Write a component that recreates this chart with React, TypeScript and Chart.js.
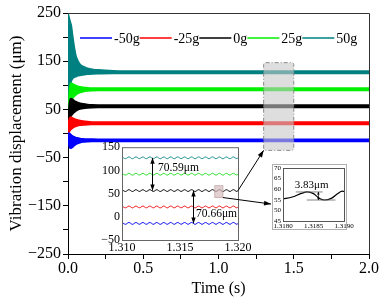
import { useEffect, useRef } from 'react';
import { Chart, registerables } from 'chart.js';
Chart.register(...registerables);

const FONT = '"Liberation Serif", "Times New Roman", serif';

// ---- main chart data ----
const seriesLabels = ['-50g', '-25g', '0g', '25g', '50g'];
const seriesColors = ['#0000ff', '#ff0000', '#000000', '#00f000', '#008080'];
const envTimes = [0, 0.005, 0.01, 0.015, 0.02, 0.03, 0.04, 0.05, 0.06, 0.08, 0.1, 0.13, 0.16, 0.2, 0.3, 0.5, 1.0, 1.5, 2.0];
const blueUpper = [0, 0.5, 0, -1.5, -3, -5.5, -7.3, -8.6, -9.5, -10.7, -11.3, -11.8, -12.0, -12.2, -12.3, -12.3, -12.3, -12.3, -12.3];
const blueLower = [0, -18, -27, -30, -30, -28, -25, -22.5, -20.7, -18.5, -17.3, -16.6, -16.3, -16.2, -16.1, -16.1, -16.1, -16.1, -16.1];
const redUpper = [0, 22, 30, 33, 33.5, 32, 30.5, 29, 28, 26.3, 25.2, 24.2, 23.6, 23.3, 23.1, 23.1, 23.1, 23.1, 23.1];
const redLower = [0, 2, 5, 7.5, 9, 11.5, 13.5, 15, 16, 17.5, 18.3, 18.9, 19.1, 19.2, 19.3, 19.3, 19.3, 19.3, 19.3];
const blackUpper = [0, 40, 62, 70, 72, 70.5, 68, 66, 64.5, 62.3, 61, 59.8, 59.1, 58.7, 58.4, 58.4, 58.4, 58.4, 58.4];
const blackLower = [0, 15, 28, 34, 37, 41, 44, 46.5, 48.5, 51, 52.5, 53.6, 54.1, 54.4, 54.6, 54.6, 54.6, 54.6, 54.6];
const greenUpper = [0, 50, 85, 100, 104, 103, 101, 99.5, 98.2, 96.5, 95.4, 94.6, 94.1, 93.9, 93.7, 93.7, 93.7, 93.7, 93.7];
const greenLower = [0, 20, 50, 62, 68, 73, 77, 80, 82.5, 85.5, 87.3, 88.7, 89.3, 89.7, 89.9, 89.9, 89.9, 89.9, 89.9];
const tealUpper = [248, 242, 236, 230, 225, 202, 180, 163, 154, 143, 138.5, 135, 133, 131.5, 129.8, 129.1, 129.0, 129.0, 129.0];
const tealLower = [0, 40, 80, 100, 108, 114, 117, 118, 119.5, 121, 122, 123.3, 124.2, 124.7, 125.1, 125.2, 125.2, 125.2, 125.2];

const mainXTicks = [0, 0.25, 0.5, 0.75, 1.0, 1.25, 1.5, 1.75, 2.0];
const mainXLabels = [0, 0.5, 1.0, 1.5, 2.0];
const mainYTicks = [-250, -200, -150, -100, -50, 0, 50, 100, 150, 200, 250];
const mainYLabels = [-250, -150, -50, 50, 150, 250];
const zoomBox = { t0: 1.3, t1: 1.5, v0: -35, v1: 147 };

// ---- inset (1.310 – 1.320 s) ----
const insetTimes = [
  1.3100, 1.3103, 1.3106, 1.3109, 1.3112, 1.3115, 1.3118, 1.3121, 1.3124, 1.3127,
  1.3130, 1.3133, 1.3136, 1.3139, 1.3142, 1.3145, 1.3148, 1.3151, 1.3154, 1.3157,
  1.3160, 1.3163, 1.3166, 1.3169, 1.3172, 1.3175, 1.3178, 1.3181, 1.3184, 1.3187,
  1.3190, 1.3193, 1.3196, 1.3199, 1.3200];
const tealInset = [
  129.0, 125.2, 129.1, 125.1, 129.0, 125.3, 129.0, 125.2, 129.1, 125.2,
  129.0, 125.1, 129.0, 125.2, 129.1, 125.2, 129.0, 125.3, 129.0, 125.2,
  129.1, 125.1, 129.0, 125.2, 129.0, 125.2, 129.1, 125.2, 129.0, 125.1,
  129.0, 125.2, 129.1, 125.2, 127.0];
const greenInset = [
  93.7, 89.9, 93.8, 89.8, 93.7, 90.0, 93.7, 89.9, 93.8, 89.9,
  93.7, 89.8, 93.7, 89.9, 93.8, 89.9, 93.7, 90.0, 93.7, 89.9,
  93.8, 89.8, 93.7, 89.9, 93.7, 89.9, 93.8, 89.9, 93.7, 89.8,
  93.7, 89.9, 93.8, 89.9, 91.8];
const blackInset = [
  58.4, 54.6, 58.5, 54.5, 58.4, 54.7, 58.4, 54.6, 58.5, 54.6,
  58.4, 54.5, 58.4, 54.6, 58.5, 54.6, 58.4, 54.7, 58.4, 54.6,
  58.5, 54.5, 58.4, 54.6, 58.4, 54.6, 58.5, 54.6, 58.4, 54.5,
  58.4, 54.6, 58.5, 54.6, 56.5];
const redInset = [
  23.1, 19.3, 23.2, 19.2, 23.1, 19.4, 23.1, 19.3, 23.2, 19.3,
  23.1, 19.2, 23.1, 19.3, 23.2, 19.3, 23.1, 19.4, 23.1, 19.3,
  23.2, 19.2, 23.1, 19.3, 23.1, 19.3, 23.2, 19.3, 23.1, 19.2,
  23.1, 19.3, 23.2, 19.3, 21.2];
const blueInset = [
  -12.3, -16.1, -12.2, -16.2, -12.3, -16.0, -12.3, -16.1, -12.2, -16.1,
  -12.3, -16.2, -12.3, -16.1, -12.2, -16.1, -12.3, -16.0, -12.3, -16.1,
  -12.2, -16.2, -12.3, -16.1, -12.3, -16.1, -12.2, -16.1, -12.3, -16.2,
  -12.3, -16.1, -12.2, -16.1, -14.2];
const insetColors = ['#0000ee', '#ee1111', '#000000', '#22dd22', '#1a8c8c'];
const insetXTicks = [1.310, 1.315, 1.320];
const insetYTicks = [-50, 0, 50, 100, 150];
const levelTeal = 127.1;
const levelBlack = 56.5;
const levelBlue = -14.2;
const gapUpperLabel = '70.59μm';
const gapLowerLabel = '70.66μm';
const detailBox = { t0: 1.3180, t1: 1.3187, v0: 41.5, v1: 67 };

// ---- detail inset (1.3180 – 1.3190 s) ----
const detailTimes = [1.3180, 1.31815, 1.3183, 1.3184, 1.3185, 1.3186, 1.31868, 1.3188, 1.3189, 1.31897, 1.3190];
const detailValues = [55.4, 56.3, 58.0, 58.7, 57.9, 55.6, 54.9, 55.8, 58.0, 59.1, 58.9];
const detailXTicks = [1.3180, 1.3185, 1.3190];
const detailYTicks = [45, 50, 55, 60, 65, 70];
const detailPeak = 58.7;
const detailTrough = 54.9;
const detailLabel = '3.83μm';

// layout of the inset canvases (page pixels)
const INSET = { left: 88, top: 138, width: 170, height: 120 };
const DETAIL = { left: 266, top: 160, width: 98, height: 76 };

const toPts = (xs: number[], ys: number[]) => xs.map((x, i) => ({ x, y: ys[i] }));
const fmtSigned = (v: number) => (v < 0 ? '\u2212' + Math.abs(v) : String(v));

function arrowHead(ctx: CanvasRenderingContext2D, x1: number, y1: number, x2: number, y2: number, len = 6, wid = 2.5) {
  const a = Math.atan2(y2 - y1, x2 - x1);
  ctx.beginPath();
  ctx.moveTo(x2, y2);
  ctx.lineTo(x2 - len * Math.cos(a) + wid * Math.sin(a), y2 - len * Math.sin(a) - wid * Math.cos(a));
  ctx.lineTo(x2 - len * Math.cos(a) - wid * Math.sin(a), y2 - len * Math.sin(a) + wid * Math.cos(a));
  ctx.closePath();
  ctx.fill();
}

function drawDoubleArrow(ctx: CanvasRenderingContext2D, x: number, y1: number, y2: number, len = 5, wid = 2) {
  ctx.beginPath();
  ctx.moveTo(x, y1);
  ctx.lineTo(x, y2);
  ctx.stroke();
  arrowHead(ctx, x, y2, x, y1, len, wid);
  arrowHead(ctx, x, y1, x, y2, len, wid);
}

export default function App() {
  const mainRef = useRef<HTMLCanvasElement>(null);
  const insetRef = useRef<HTMLCanvasElement>(null);
  const detailRef = useRef<HTMLCanvasElement>(null);
  const overlayRef = useRef<HTMLCanvasElement>(null);

  useEffect(() => {
    const envelopes = [
      [blueUpper, blueLower], [redUpper, redLower], [blackUpper, blackLower],
      [greenUpper, greenLower], [tealUpper, tealLower],
    ];
    const mainDatasets: any[] = envelopes.flatMap(([u, l], i) => [
      { label: seriesLabels[i], data: toPts(envTimes, u), borderColor: seriesColors[i], backgroundColor: seriesColors[i], borderWidth: 2, fill: '+1', pointRadius: 0, cubicInterpolationMode: 'monotone' },
      { label: seriesLabels[i] + ' low', data: toPts(envTimes, l), borderColor: seriesColors[i], backgroundColor: seriesColors[i], borderWidth: 2, fill: false, pointRadius: 0, cubicInterpolationMode: 'monotone' },
    ]);

    const mainPlugin = {
      id: 'mainDecor',
      afterDatasetsDraw(chart: any) {
        const { ctx, scales } = chart;
        const x0 = scales.x.getPixelForValue(zoomBox.t0);
        const x1 = scales.x.getPixelForValue(zoomBox.t1);
        const y0 = scales.y.getPixelForValue(zoomBox.v1);
        const y1 = scales.y.getPixelForValue(zoomBox.v0);
        ctx.save();
        ctx.fillStyle = 'rgba(200,200,200,0.6)';
        ctx.beginPath();
        (ctx as any).roundRect ? ctx.roundRect(x0, y0, x1 - x0, y1 - y0, 2) : ctx.rect(x0, y0, x1 - x0, y1 - y0);
        ctx.fill();
        ctx.strokeStyle = '#8a8a8a';
        ctx.lineWidth = 1;
        ctx.setLineDash([4, 2, 1, 2]);
        ctx.stroke();
        ctx.restore();
      },
      afterDraw(chart: any) {
        const { ctx, chartArea } = chart;
        ctx.save();
        ctx.strokeStyle = '#333';
        ctx.lineWidth = 1;
        ctx.beginPath();
        ctx.moveTo(chartArea.left, chartArea.top + 0.5);
        ctx.lineTo(chartArea.right + 0.5, chartArea.top + 0.5);
        ctx.lineTo(chartArea.right + 0.5, chartArea.bottom);
        ctx.stroke();
        // legend
        ctx.font = `14px ${FONT}`;
        ctx.textBaseline = 'middle';
        ctx.textAlign = 'left';
        const ly = chartArea.top + 25;
        let x = chartArea.left + 12;
        seriesLabels.forEach((lab, i) => {
          ctx.strokeStyle = seriesColors[i];
          ctx.lineWidth = 1.5;
          ctx.beginPath();
          ctx.moveTo(x, ly);
          ctx.lineTo(x + 32, ly);
          ctx.stroke();
          ctx.fillStyle = '#000';
          ctx.fillText(lab, x + 34, ly + 1);
          x += 34 + ctx.measureText(lab).width;
        });
        ctx.restore();
      },
    };

    const main = new Chart(mainRef.current!, {
      type: 'line',
      data: { datasets: mainDatasets },
      options: {
        animation: false, responsive: false, maintainAspectRatio: false, devicePixelRatio: 1,
        layout: { padding: { top: 13, right: 11, left: 0, bottom: 0 } },
        plugins: { legend: { display: false }, tooltip: { enabled: false } },
        scales: {
          x: {
            type: 'linear', min: 0, max: 2,
            afterBuildTicks: (s: any) => { s.ticks = mainXTicks.map((v) => ({ value: v })); },
            afterFit: (s: any) => { s.height = 46; },
            ticks: {
              autoSkip: false, maxRotation: 0, padding: 0, color: '#000', font: { family: FONT, size: 16 },
              callback: (v: any) => (mainXLabels.includes(Number(v)) ? Number(v).toFixed(1) : ''),
            },
            grid: { drawOnChartArea: false, tickLength: 5, color: '#000' },
            border: { color: '#000' },
            title: { display: true, text: 'Time (s)', color: '#000', font: { family: FONT, size: 16 }, padding: { top: 0, bottom: 2 } },
          },
          y: {
            type: 'linear', min: -250, max: 250,
            afterBuildTicks: (s: any) => { s.ticks = mainYTicks.map((v) => ({ value: v })); },
            afterFit: (s: any) => { s.width = 68; },
            ticks: {
              autoSkip: false, padding: 2, color: '#000', font: { family: FONT, size: 16 },
              callback: (v: any) => (mainYLabels.includes(Number(v)) ? fmtSigned(Number(v)) : ''),
            },
            grid: { drawOnChartArea: false, tickLength: 5, color: '#000' },
            border: { color: '#000' },
            title: { display: true, text: 'Vibration displacement (μm)', color: '#000', font: { family: FONT, size: 17 }, padding: { top: 6, bottom: 0 } },
          },
        },
      } as any,
      plugins: [mainPlugin],
    } as any);

    // ---- inset chart ----
    const insetSeries = [blueInset, redInset, blackInset, greenInset, tealInset];
    const insetPlugin = {
      id: 'insetDecor',
      beforeDatasetsDraw(chart: any) {
        const { ctx, chartArea } = chart;
        ctx.save();
        ctx.fillStyle = '#fff';
        ctx.fillRect(chartArea.left, chartArea.top, chartArea.right - chartArea.left, chartArea.bottom - chartArea.top);
        ctx.restore();
      },
      afterDatasetsDraw(chart: any) {
        const { ctx, scales, chartArea } = chart;
        const X = (v: number) => scales.x.getPixelForValue(v);
        const Y = (v: number) => scales.y.getPixelForValue(v);
        ctx.save();
        // small zoom rectangle
        ctx.fillStyle = 'rgba(215,190,190,0.7)';
        ctx.strokeStyle = 'rgba(190,160,160,0.9)';
        ctx.lineWidth = 0.8;
        ctx.fillRect(X(detailBox.t0), Y(detailBox.v1), X(detailBox.t1) - X(detailBox.t0), Y(detailBox.v0) - Y(detailBox.v1));
        ctx.strokeRect(X(detailBox.t0), Y(detailBox.v1), X(detailBox.t1) - X(detailBox.t0), Y(detailBox.v0) - Y(detailBox.v1));
        // arrows
        ctx.strokeStyle = '#000';
        ctx.fillStyle = '#000';
        ctx.lineWidth = 1;
        drawDoubleArrow(ctx, Math.round(X(1.31259)) + 0.5, Y(levelTeal), Y(levelBlack), 6, 2.2);
        drawDoubleArrow(ctx, Math.round(X(1.31609)) + 0.5, Y(levelBlack), Y(levelBlue), 6, 2.2);
        ctx.font = `11.5px ${FONT}`;
        ctx.textBaseline = 'middle';
        ctx.textAlign = 'left';
        ctx.fillText(gapUpperLabel, X(1.3131), Y(105));
        ctx.fillText(gapLowerLabel, X(1.31638), Y(5));
        // frame
        ctx.strokeStyle = '#666';
        ctx.lineWidth = 1;
        ctx.strokeRect(chartArea.left + 0.5, chartArea.top + 0.5, chartArea.right - chartArea.left, chartArea.bottom - chartArea.top);
        ctx.restore();
      },
    };
    const inset = new Chart(insetRef.current!, {
      type: 'line',
      data: {
        datasets: insetSeries.map((s, i) => ({
          label: seriesLabels[i], data: toPts(insetTimes, s), borderColor: insetColors[i], borderWidth: 1,
          pointRadius: 0, fill: false, cubicInterpolationMode: 'monotone',
        })),
      },
      options: {
        animation: false, responsive: false, maintainAspectRatio: false, devicePixelRatio: 1,
        layout: { padding: { top: 8, right: 20, left: 0, bottom: 0 } },
        plugins: { legend: { display: false }, tooltip: { enabled: false } },
        scales: {
          x: {
            type: 'linear', min: 1.31, max: 1.32,
            afterBuildTicks: (s: any) => { s.ticks = insetXTicks.map((v) => ({ value: v })); },
            afterFit: (s: any) => { s.height = 18; },
            ticks: { autoSkip: false, maxRotation: 0, padding: 1, color: '#000', font: { family: FONT, size: 12 }, callback: (v: any) => Number(v).toFixed(3) },
            grid: { drawOnChartArea: false, drawTicks: false },
            border: { color: '#666' },
          },
          y: {
            type: 'linear', min: -50, max: 150,
            afterBuildTicks: (s: any) => { s.ticks = insetYTicks.map((v) => ({ value: v })); },
            afterFit: (s: any) => { s.width = 34; },
            ticks: { autoSkip: false, padding: 2, color: '#000', font: { family: FONT, size: 12 }, callback: (v: any) => fmtSigned(Number(v)) },
            grid: { drawOnChartArea: false, drawTicks: false },
            border: { color: '#666' },
          },
        },
      } as any,
      plugins: [insetPlugin],
    } as any);

    // ---- detail chart ----
    const detailPlugin = {
      id: 'detailDecor',
      beforeDraw(chart: any) {
        const { ctx, chartArea } = chart;
        ctx.save();
        ctx.fillStyle = '#fff';
        const l = chartArea.left - 11, t = chartArea.top - 4, r = chartArea.right + 2, b = chartArea.bottom + 8;
        ctx.fillRect(l, t, r - l, b - t);
        ctx.strokeStyle = '#b0b0b0';
        ctx.lineWidth = 1;
        ctx.strokeRect(l + 0.5, t + 0.5, r - l, b - t);
        ctx.restore();
      },
      afterDatasetsDraw(chart: any) {
        const { ctx, scales, chartArea } = chart;
        const X = (v: number) => scales.x.getPixelForValue(v);
        const Y = (v: number) => scales.y.getPixelForValue(v);
        ctx.save();
        ctx.strokeStyle = '#666';
        ctx.lineWidth = 0.8;
        ctx.beginPath();
        ctx.moveTo(X(1.31821), Y(detailPeak)); ctx.lineTo(X(1.31865), Y(detailPeak));
        ctx.moveTo(X(1.31839), Y(detailTrough)); ctx.lineTo(X(1.31886), Y(detailTrough));
        ctx.stroke();
        ctx.strokeStyle = '#000';
        ctx.fillStyle = '#000';
        ctx.lineWidth = 0.8;
        drawDoubleArrow(ctx, X(1.31858), Y(detailPeak), Y(detailTrough), 2.5, 1.3);
        ctx.font = `11px ${FONT}`;
        ctx.textAlign = 'center';
        ctx.textBaseline = 'middle';
        ctx.fillText(detailLabel, X(1.31847), Y(62));
        ctx.strokeStyle = '#555';
        ctx.lineWidth = 1;
        ctx.strokeRect(chartArea.left + 0.5, chartArea.top + 0.5, chartArea.right - chartArea.left, chartArea.bottom - chartArea.top);
        ctx.restore();
      },
    };
    const detail = new Chart(detailRef.current!, {
      type: 'line',
      data: {
        datasets: [{
          label: '0g', data: toPts(detailTimes, detailValues), borderColor: '#000', borderWidth: 1.2,
          pointRadius: 0, fill: false, cubicInterpolationMode: 'monotone',
        }],
      },
      options: {
        animation: false, responsive: false, maintainAspectRatio: false, devicePixelRatio: 1,
        layout: { padding: { top: 8, right: 20, left: 0, bottom: 0 } },
        plugins: { legend: { display: false }, tooltip: { enabled: false } },
        scales: {
          x: {
            type: 'linear', min: 1.318, max: 1.319,
            afterBuildTicks: (s: any) => { s.ticks = detailXTicks.map((v) => ({ value: v })); },
            afterFit: (s: any) => { s.height = 15; },
            ticks: { autoSkip: false, maxRotation: 0, padding: 1, color: '#000', font: { family: FONT, size: 7 }, callback: (v: any) => Number(v).toFixed(4) },
            grid: { drawOnChartArea: false, drawTicks: false },
            border: { color: '#555' },
          },
          y: {
            type: 'linear', min: 45, max: 70,
            afterBuildTicks: (s: any) => { s.ticks = detailYTicks.map((v) => ({ value: v })); },
            afterFit: (s: any) => { s.width = 17; },
            ticks: { autoSkip: false, padding: 2, color: '#000', font: { family: FONT, size: 7 }, callback: (v: any) => String(v) },
            grid: { drawOnChartArea: false, drawTicks: false },
            border: { color: '#555' },
          },
        },
      } as any,
      plugins: [detailPlugin],
    } as any);

    // ---- connector arrows ----
    const ov = overlayRef.current!;
    const octx = ov.getContext('2d')!;
    octx.clearRect(0, 0, ov.width, ov.height);
    octx.strokeStyle = '#000';
    octx.fillStyle = '#000';
    octx.lineWidth = 1;
    const a1s = { x: INSET.left + inset.scales.x.getPixelForValue(1.32), y: INSET.top + inset.scales.y.getPixelForValue(levelBlack) };
    const a1e = { x: main.scales.x.getPixelForValue(zoomBox.t0), y: main.scales.y.getPixelForValue(zoomBox.v0) };
    octx.beginPath(); octx.moveTo(a1s.x, a1s.y); octx.lineTo(a1e.x, a1e.y); octx.stroke();
    arrowHead(octx, a1s.x, a1s.y, a1e.x, a1e.y, 7, 2.5);
    const a2s = { x: INSET.left + inset.scales.x.getPixelForValue(detailBox.t1), y: INSET.top + inset.scales.y.getPixelForValue(detailBox.v0) };
    const a2e = { x: DETAIL.left + detail.chartArea.left - 12, y: DETAIL.top + detail.scales.y.getPixelForValue(53) };
    octx.beginPath(); octx.moveTo(a2s.x, a2s.y); octx.lineTo(a2e.x, a2e.y); octx.stroke();
    arrowHead(octx, a2s.x, a2s.y, a2e.x, a2e.y, 7, 2.5);

    return () => {
      main.destroy();
      inset.destroy();
      detail.destroy();
      octx.clearRect(0, 0, ov.width, ov.height);
    };
  }, []);

  return (
    <div style={{ position: 'fixed', left: 0, top: 0, width: 380, height: 300, background: '#fff' }}>
      <canvas ref={mainRef} width={380} height={300} style={{ position: 'absolute', left: 0, top: 0 }} />
      <canvas ref={insetRef} width={INSET.width} height={INSET.height} style={{ position: 'absolute', left: INSET.left, top: INSET.top }} />
      <canvas ref={detailRef} width={DETAIL.width} height={DETAIL.height} style={{ position: 'absolute', left: DETAIL.left, top: DETAIL.top }} />
      <canvas ref={overlayRef} width={380} height={300} style={{ position: 'absolute', left: 0, top: 0, pointerEvents: 'none' }} />
    </div>
  );
}
